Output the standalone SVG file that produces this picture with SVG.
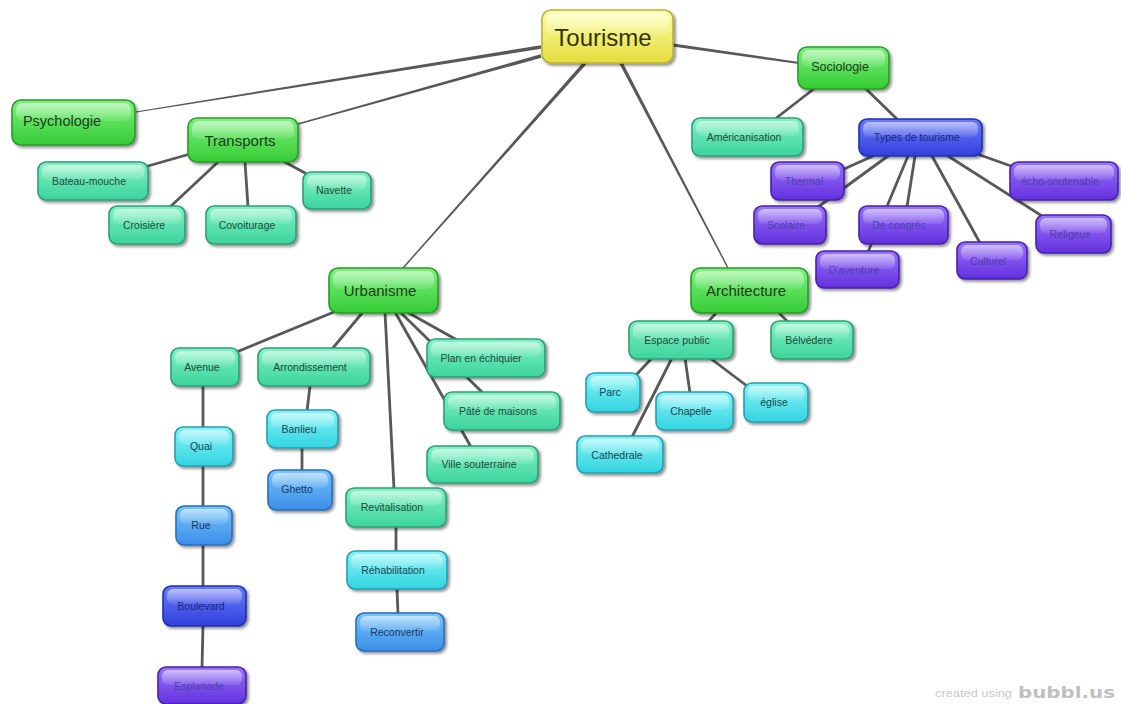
<svg xmlns="http://www.w3.org/2000/svg" width="1121" height="704" viewBox="0 0 1121 704">
<defs>
<linearGradient id="gY" x1="0" y1="0" x2="0" y2="1"><stop offset="0" stop-color="#ffffa8"/><stop offset="1" stop-color="#e4dc3c"/></linearGradient>
<linearGradient id="gG" x1="0" y1="0" x2="0" y2="1"><stop offset="0" stop-color="#7ef27e"/><stop offset="1" stop-color="#34cc34"/></linearGradient>
<linearGradient id="gM" x1="0" y1="0" x2="0" y2="1"><stop offset="0" stop-color="#82f2c4"/><stop offset="1" stop-color="#3cd49e"/></linearGradient>
<linearGradient id="gC" x1="0" y1="0" x2="0" y2="1"><stop offset="0" stop-color="#88f4f8"/><stop offset="1" stop-color="#32d4e0"/></linearGradient>
<linearGradient id="gB" x1="0" y1="0" x2="0" y2="1"><stop offset="0" stop-color="#78c4fa"/><stop offset="1" stop-color="#3a8ee8"/></linearGradient>
<linearGradient id="gD" x1="0" y1="0" x2="0" y2="1"><stop offset="0" stop-color="#6a7cfa"/><stop offset="1" stop-color="#3040dc"/></linearGradient>
<linearGradient id="gP" x1="0" y1="0" x2="0" y2="1"><stop offset="0" stop-color="#9a74fa"/><stop offset="1" stop-color="#6230de"/></linearGradient>
<linearGradient id="gl" x1="0" y1="0" x2="0" y2="1"><stop offset="0" stop-color="#fff" stop-opacity="0.55"/><stop offset="1" stop-color="#fff" stop-opacity="0.08"/></linearGradient>
<filter id="sh" x="-10%" y="-10%" width="125%" height="140%"><feGaussianBlur in="SourceAlpha" stdDeviation="1.6"/><feOffset dx="1.5" dy="2" result="o"/><feComponentTransfer><feFuncA type="linear" slope="0.45"/></feComponentTransfer><feMerge><feMergeNode/><feMergeNode in="SourceGraphic"/></feMerge></filter>
</defs>
<style>
.n rect.b{stroke-width:1.6;filter:url(#sh)}
.n rect.h{fill:url(#gl)}
.n text{font-family:"Liberation Sans",Arial,sans-serif;font-size:10.5px;text-anchor:middle;dominant-baseline:central}
.y rect.b{fill:url(#gY);stroke:#b8b03a}
.g rect.b{fill:url(#gG);stroke:#2a9a2a}
.m rect.b{fill:url(#gM);stroke:#2e9e78}
.c rect.b{fill:url(#gC);stroke:#2a9cb0}
.bl rect.b{fill:url(#gB);stroke:#2a6cc0}
.d rect.b{fill:url(#gD);stroke:#2030b0}
.p rect.b{fill:url(#gP);stroke:#4820b0}
.y text{fill:#333310;font-size:24px}
.g text{fill:#1c3c1c;font-size:15px}
.m text{fill:#244a3c}
.c text{fill:#1e4650}
.bl text{fill:#1c3a68}
.d text{fill:#1c2a80}
.p text{fill:#5040b0}
#links line{stroke:#585858;stroke-width:2.8;stroke-linecap:round}
#links polygon{fill:#585858}
.wm{font-family:"Liberation Sans",Arial,sans-serif;fill:#c8c8c8}
</style>
<rect width="1121" height="704" fill="#fff"/>
<g id="links">
<polygon points="541.28,48.73 540.72,45.27 135.9,111.41 136.1,112.59"/>
<polygon points="541.47,57.69 540.53,54.31 297.81,123.33 298.19,124.67"/>
<polygon points="586.31,64.16 583.69,61.84 402.48,267.54 403.52,268.46"/>
<polygon points="622.55,62.19 619.45,63.81 727.38,268.32 728.62,267.68"/>
<polygon points="672.77,46.58 673.23,43.42 799.14,62.01 798.86,63.99"/>
<line x1="190" y1="154" x2="148" y2="166"/>
<line x1="218" y1="162" x2="170" y2="207"/>
<line x1="245" y1="162" x2="248" y2="207"/>
<line x1="283" y1="161" x2="305" y2="173"/>
<line x1="815" y1="88" x2="775" y2="119"/>
<line x1="865" y1="88" x2="898" y2="120"/>
<line x1="873" y1="156" x2="844" y2="169"/>
<line x1="888" y1="156" x2="818" y2="207"/>
<line x1="908" y1="156" x2="868" y2="252"/>
<line x1="915" y1="156" x2="907" y2="207"/>
<line x1="932" y1="156" x2="980" y2="243"/>
<line x1="948" y1="156" x2="1042" y2="216"/>
<line x1="980" y1="155" x2="1011" y2="166"/>
<line x1="334" y1="312" x2="239" y2="351"/>
<line x1="363" y1="312" x2="332" y2="349"/>
<line x1="385" y1="312" x2="394" y2="489"/>
<line x1="395" y1="312" x2="471" y2="447"/>
<line x1="400" y1="312" x2="483" y2="393"/>
<line x1="407" y1="312" x2="457" y2="340"/>
<line x1="203" y1="386" x2="203" y2="428"/>
<line x1="203" y1="466" x2="203" y2="507"/>
<line x1="203" y1="545" x2="203" y2="587"/>
<line x1="203" y1="626" x2="202" y2="668"/>
<line x1="310" y1="386" x2="307" y2="411"/>
<line x1="302" y1="448" x2="302" y2="471"/>
<line x1="396" y1="527" x2="396" y2="552"/>
<line x1="397" y1="589" x2="398" y2="614"/>
<line x1="717" y1="312" x2="708" y2="322"/>
<line x1="778" y1="312" x2="788" y2="322"/>
<line x1="652" y1="358" x2="637" y2="374"/>
<line x1="672" y1="358" x2="632" y2="437"/>
<line x1="685" y1="358" x2="690" y2="393"/>
<line x1="710" y1="358" x2="747" y2="386"/>
</g>
<g id="tourisme" class="n y"><rect class="b" x="542" y="10" width="131" height="53" rx="9"/><rect class="h" x="546" y="13" width="123" height="22" rx="7"/><text x="603" y="37">Tourisme</text></g>
<g id="psychologie" class="n g"><rect class="b" x="12" y="100" width="123" height="45" rx="9"/><rect class="h" x="16" y="103" width="115" height="18" rx="7"/><text x="62" y="121" style="font-size:14.5px">Psychologie</text></g>
<g id="transports" class="n g"><rect class="b" x="188" y="118" width="110" height="44" rx="9"/><rect class="h" x="192" y="121" width="102" height="18" rx="7"/><text x="240" y="140">Transports</text></g>
<g id="bateau-mouche" class="n m"><rect class="b" x="38" y="162" width="110" height="38" rx="8"/><rect class="h" x="42" y="165" width="102" height="15" rx="6"/><text x="89" y="181">Bateau-mouche</text></g>
<g id="croisiere" class="n m"><rect class="b" x="109" y="206" width="76" height="38" rx="8"/><rect class="h" x="113" y="209" width="68" height="15" rx="6"/><text x="144" y="225">Croisière</text></g>
<g id="covoiturage" class="n m"><rect class="b" x="206" y="206" width="90" height="38" rx="8"/><rect class="h" x="210" y="209" width="82" height="15" rx="6"/><text x="247" y="225">Covoiturage</text></g>
<g id="navette" class="n m"><rect class="b" x="303" y="172" width="68" height="37" rx="8"/><rect class="h" x="307" y="175" width="60" height="15" rx="6"/><text x="334" y="190">Navette</text></g>
<g id="sociologie" class="n g"><rect class="b" x="798" y="47" width="91" height="42" rx="9"/><rect class="h" x="802" y="50" width="83" height="17" rx="7"/><text x="840" y="67" style="font-size:12.5px">Sociologie</text></g>
<g id="americanisation" class="n m"><rect class="b" x="692" y="118" width="111" height="38" rx="8"/><rect class="h" x="696" y="121" width="103" height="15" rx="6"/><text x="744" y="137">Américanisation</text></g>
<g id="types-de-tourisme" class="n d"><rect class="b" x="859" y="119" width="123" height="37" rx="8"/><rect class="h" x="863" y="122" width="115" height="15" rx="6"/><text x="917" y="137">Types de tourisme</text></g>
<g id="thermal" class="n p"><rect class="b" x="771" y="162" width="73" height="38" rx="8"/><rect class="h" x="775" y="165" width="65" height="15" rx="6"/><text x="804" y="181">Thermal</text></g>
<g id="echo-soutenable" class="n p"><rect class="b" x="1010" y="162" width="108" height="38" rx="8"/><rect class="h" x="1014" y="165" width="100" height="15" rx="6"/><text x="1060" y="181">écho-soutenable</text></g>
<g id="scolaire" class="n p"><rect class="b" x="754" y="206" width="72" height="38" rx="8"/><rect class="h" x="758" y="209" width="64" height="15" rx="6"/><text x="786" y="225">Scolaire</text></g>
<g id="de-congres" class="n p"><rect class="b" x="859" y="206" width="89" height="38" rx="8"/><rect class="h" x="863" y="209" width="81" height="15" rx="6"/><text x="899" y="225">De congrès</text></g>
<g id="religeux" class="n p"><rect class="b" x="1036" y="215" width="75" height="38" rx="8"/><rect class="h" x="1040" y="218" width="67" height="15" rx="6"/><text x="1070" y="234">Religeux</text></g>
<g id="culturel" class="n p"><rect class="b" x="957" y="242" width="70" height="37" rx="8"/><rect class="h" x="961" y="245" width="62" height="15" rx="6"/><text x="988" y="261">Culturel</text></g>
<g id="daventure" class="n p"><rect class="b" x="816" y="251" width="83" height="37" rx="8"/><rect class="h" x="820" y="254" width="75" height="15" rx="6"/><text x="854" y="270">D'aventure</text></g>
<g id="urbanisme" class="n g"><rect class="b" x="329" y="268" width="109" height="45" rx="9"/><rect class="h" x="333" y="271" width="101" height="18" rx="7"/><text x="380" y="290">Urbanisme</text></g>
<g id="avenue" class="n m"><rect class="b" x="171" y="348" width="68" height="38" rx="8"/><rect class="h" x="175" y="351" width="60" height="15" rx="6"/><text x="202" y="367">Avenue</text></g>
<g id="arrondissement" class="n m"><rect class="b" x="258" y="348" width="112" height="38" rx="8"/><rect class="h" x="262" y="351" width="104" height="15" rx="6"/><text x="310" y="367">Arrondissement</text></g>
<g id="plan-en-echiquier" class="n m"><rect class="b" x="427" y="339" width="118" height="38" rx="8"/><rect class="h" x="431" y="342" width="110" height="15" rx="6"/><text x="481" y="358">Plan en échiquier</text></g>
<g id="pate-de-maisons" class="n m"><rect class="b" x="444" y="392" width="116" height="38" rx="8"/><rect class="h" x="448" y="395" width="108" height="15" rx="6"/><text x="498" y="411">Pâté de maisons</text></g>
<g id="ville-souterraine" class="n m"><rect class="b" x="427" y="446" width="111" height="37" rx="8"/><rect class="h" x="431" y="449" width="103" height="15" rx="6"/><text x="479" y="464">Ville souterraine</text></g>
<g id="quai" class="n c"><rect class="b" x="175" y="427" width="58" height="39" rx="8"/><rect class="h" x="179" y="430" width="50" height="15" rx="6"/><text x="201" y="446">Quai</text></g>
<g id="banlieu" class="n c"><rect class="b" x="267" y="410" width="71" height="38" rx="8"/><rect class="h" x="271" y="413" width="63" height="15" rx="6"/><text x="299" y="429">Banlieu</text></g>
<g id="ghetto" class="n bl"><rect class="b" x="268" y="470" width="64" height="40" rx="8"/><rect class="h" x="272" y="473" width="56" height="15" rx="6"/><text x="297" y="489">Ghetto</text></g>
<g id="revitalisation" class="n m"><rect class="b" x="346" y="488" width="100" height="39" rx="8"/><rect class="h" x="350" y="491" width="92" height="15" rx="6"/><text x="392" y="507">Revitalisation</text></g>
<g id="rehabilitation" class="n c"><rect class="b" x="347" y="551" width="100" height="38" rx="8"/><rect class="h" x="351" y="554" width="92" height="15" rx="6"/><text x="393" y="570">Réhabilitation</text></g>
<g id="reconvertir" class="n bl"><rect class="b" x="356" y="613" width="88" height="38" rx="8"/><rect class="h" x="360" y="616" width="80" height="15" rx="6"/><text x="397" y="632">Reconvertir</text></g>
<g id="rue" class="n bl"><rect class="b" x="176" y="506" width="56" height="39" rx="8"/><rect class="h" x="180" y="509" width="48" height="15" rx="6"/><text x="201" y="525">Rue</text></g>
<g id="boulevard" class="n d"><rect class="b" x="163" y="586" width="83" height="40" rx="8"/><rect class="h" x="167" y="589" width="75" height="15" rx="6"/><text x="201" y="606">Boulevard</text></g>
<g id="esplanade" class="n p"><rect class="b" x="158" y="667" width="88" height="37" rx="8"/><rect class="h" x="162" y="670" width="80" height="15" rx="6"/><text x="199" y="686">Esplanade</text></g>
<g id="architecture" class="n g"><rect class="b" x="691" y="268" width="117" height="45" rx="9"/><rect class="h" x="695" y="271" width="109" height="18" rx="7"/><text x="746" y="290">Architecture</text></g>
<g id="espace-public" class="n m"><rect class="b" x="629" y="321" width="104" height="38" rx="8"/><rect class="h" x="633" y="324" width="96" height="15" rx="6"/><text x="677" y="340">Espace public</text></g>
<g id="belvedere" class="n m"><rect class="b" x="771" y="321" width="82" height="38" rx="8"/><rect class="h" x="775" y="324" width="74" height="15" rx="6"/><text x="809" y="340">Bélvédere</text></g>
<g id="parc" class="n c"><rect class="b" x="586" y="373" width="54" height="39" rx="8"/><rect class="h" x="590" y="376" width="46" height="15" rx="6"/><text x="610" y="392">Parc</text></g>
<g id="chapelle" class="n c"><rect class="b" x="656" y="392" width="77" height="38" rx="8"/><rect class="h" x="660" y="395" width="69" height="15" rx="6"/><text x="691" y="411">Chapelle</text></g>
<g id="eglise" class="n c"><rect class="b" x="744" y="383" width="64" height="39" rx="8"/><rect class="h" x="748" y="386" width="56" height="15" rx="6"/><text x="774" y="402">église</text></g>
<g id="cathedrale" class="n c"><rect class="b" x="577" y="436" width="86" height="37" rx="8"/><rect class="h" x="581" y="439" width="78" height="15" rx="6"/><text x="617" y="455">Cathedrale</text></g>
<text class="wm" x="935" y="697" style="font-size:11.5px" textLength="77" lengthAdjust="spacingAndGlyphs">created using</text>
<text class="wm" x="1018" y="698" style="font-size:15px;font-weight:bold;font-family:'DejaVu Sans',sans-serif;fill:#c0c0c0" textLength="97" lengthAdjust="spacingAndGlyphs">bubbl.us</text>
</svg>
